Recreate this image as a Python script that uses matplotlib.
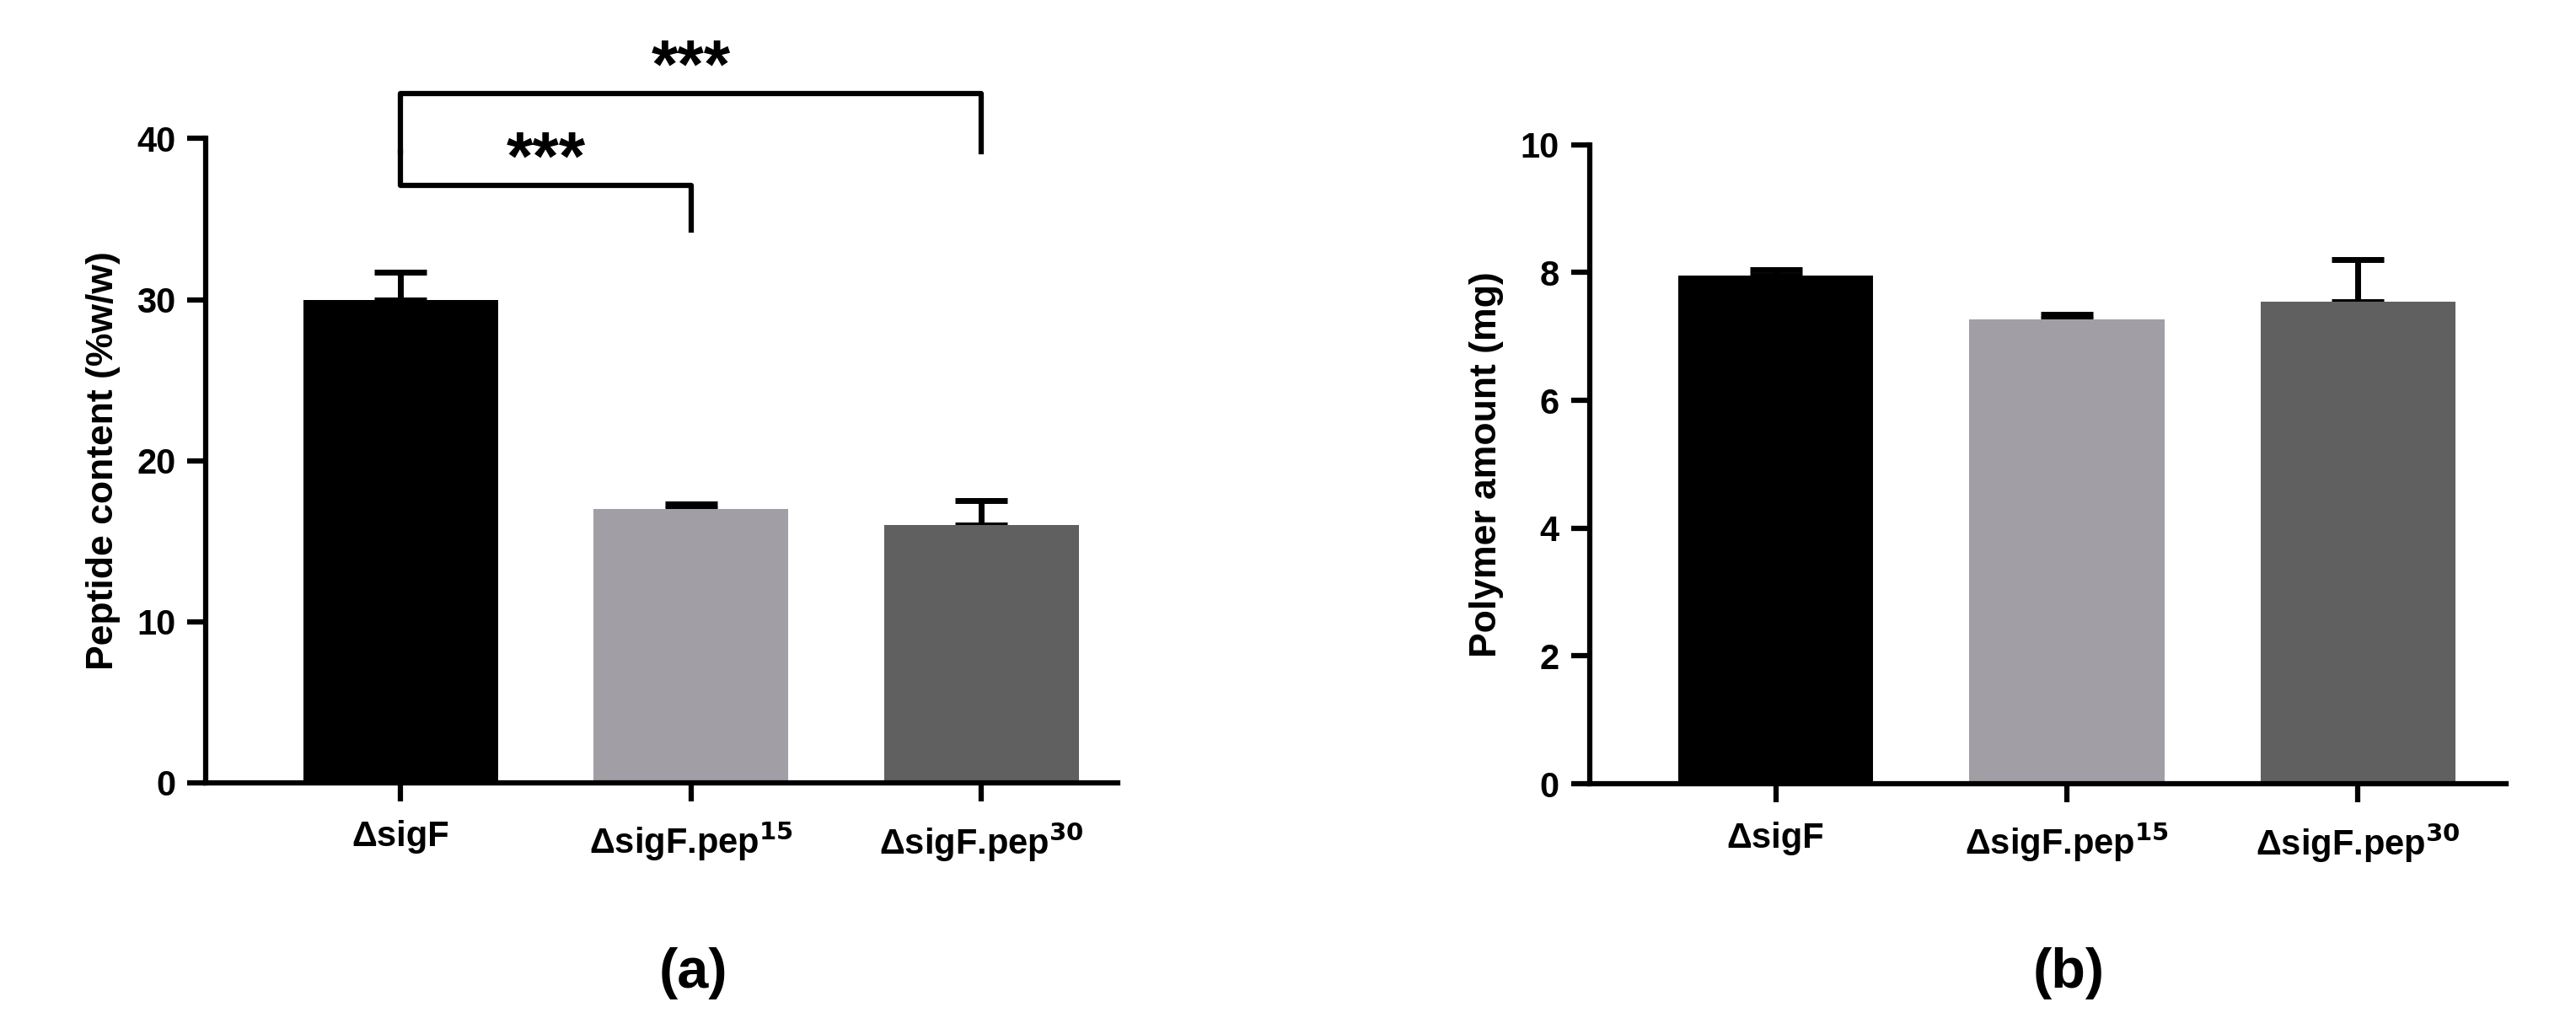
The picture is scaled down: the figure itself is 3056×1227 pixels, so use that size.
import matplotlib.pyplot as plt
import numpy as np

strains = ['ΔsigF', 'ΔsigF.pep$^{15}$', 'ΔsigF.pep$^{30}$']
peptide = [30.0, 17.0, 16.0]
peptide_err = [1.7, 0.3, 1.5]
polymer = [7.95, 7.27, 7.55]
polymer_err = [0.1, 0.08, 0.65]
colors = ['#000000', '#a19fa5', '#606060']

plt.rcParams['font.family'] = ['Liberation Sans', 'DejaVu Sans']
plt.rcParams['font.weight'] = 'bold'

fig = plt.figure(figsize=(30.56, 12.27), dpi=100)
ax1 = fig.add_axes([0.080, 0.243, 0.354, 0.623])
ax2 = fig.add_axes([0.617, 0.242, 0.356, 0.618])

x = np.arange(3)

def style(ax, ylim, yticks, ylabel, xlim):
    ax.bar(x, ylim[2], width=0.67, color=colors, zorder=2)
    ax.errorbar(x, ylim[2], yerr=[np.zeros(3), ylim[3]], fmt='none', ecolor='black',
                elinewidth=5, capsize=22, capthick=5, zorder=1)
    ax.set_ylim(ylim[0], ylim[1])
    ax.set_xlim(*xlim)
    ax.set_yticks(yticks)
    ax.set_xticks(x)
    ax.set_xticklabels(strains)
    ax.set_ylabel(ylabel, fontsize=32, fontweight='bold', labelpad=14)
    for s in ['top', 'right']:
        ax.spines[s].set_visible(False)
    for s in ['left', 'bottom']:
        ax.spines[s].set_linewidth(4.5)
    ax.tick_params(width=4.5, length=16, labelsize=30, pad=10)
    ax.tick_params(axis='x', pad=16)
    for lab in ax.get_xticklabels() + ax.get_yticklabels():
        lab.set_fontweight('bold')

style(ax1, (0, 40, peptide, peptide_err), [0, 10, 20, 30, 40],
      'Peptide content (%w/w)', (-0.67, 2.47))
style(ax2, (0, 10, polymer, polymer_err), [0, 2, 4, 6, 8, 10],
      'Polymer amount (mg)', (-0.64, 2.51))

# significance brackets
lw = 4.5
ax1.plot([0, 0, 1, 1], [39.2, 37.1, 37.1, 34.3], color='black', lw=lw, clip_on=False)
ax1.plot([0, 0, 2, 2], [39.2, 42.8, 42.8, 39.2], color='black', lw=lw, clip_on=False)
ax1.text(0.5, 38.6, '***', ha='center', va='center', fontsize=58, fontweight='bold', clip_on=False)
ax1.text(1.0, 44.3, '***', ha='center', va='center', fontsize=58, fontweight='bold', clip_on=False)

fig.text(0.269, 0.045, '(a)', ha='center', fontsize=48, fontweight='bold')
fig.text(0.803, 0.045, '(b)', ha='center', fontsize=48, fontweight='bold')

fig.savefig('out.png', dpi=100)
